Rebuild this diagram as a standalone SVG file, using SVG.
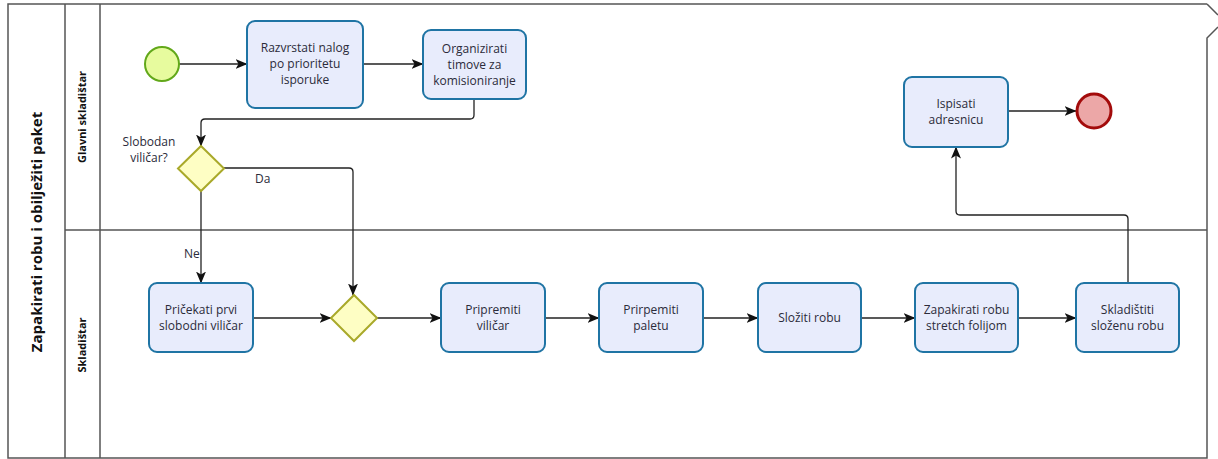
<svg xmlns="http://www.w3.org/2000/svg" width="1218" height="459" viewBox="0 0 1218 459">
<style>
.pool{fill:none;stroke:#555;stroke-width:1.5}
.task rect{fill:#e8ecfc;stroke:#1f74a4;stroke-width:2}
.txt{font-family:"Open Sans","Noto Sans",sans-serif;font-size:12px;fill:#2b2b3a;text-anchor:middle}
.gw{fill:#fefec4;stroke:#a9a92a;stroke-width:2}
.lbl{font-family:"Open Sans","Noto Sans",sans-serif;font-size:12px;fill:#2b2b3a}
.lane{font-family:"Open Sans","Noto Sans",sans-serif;font-size:11px;font-weight:bold;fill:#111;text-anchor:middle}
.flow{fill:none;stroke:#222;stroke-width:1.3;marker-end:url(#arr)}
</style>
<defs>
<marker id="arr" viewBox="0 0 12 10" refX="11.5" refY="5" markerWidth="12" markerHeight="10" markerUnits="userSpaceOnUse" orient="auto">
<path d="M0,0 L12,5 L0,10 L3,5 Z" fill="#111"/>
</marker>
</defs>
<rect width="1218" height="459" fill="#fff"/>
<g id="pool">
<path class="pool" d="M1207,4 H8 V458 H1207 V38 L1218,27 M1207,4 L1218,15"/>
<line class="pool" x1="65" y1="4" x2="65" y2="458"/>
<line class="pool" x1="100" y1="4" x2="100" y2="458"/>
<line class="pool" x1="65" y1="230" x2="1207" y2="230"/>
<text x="0" y="0" transform="translate(42,232) rotate(-90)" font-family="'Open Sans','Noto Sans',sans-serif" font-size="15" font-weight="bold" fill="#111" text-anchor="middle">Zapakirati robu i obilježiti paket</text>
</g>
<g id="lane-glavni"><text class="lane" transform="translate(86,117) rotate(-90)">Glavni skladištar</text></g>
<g id="lane-skladistar"><text class="lane" transform="translate(86,345) rotate(-90)">Skladištar</text></g>
<g id="connectors">
<path class="flow" d="M179,64 H247"/>
<path class="flow" d="M363,64 H423"/>
<path class="flow" d="M474,99 V115 Q474,119 470,119 H205 Q201,119 201,123 V146"/>
<path class="flow" d="M224,168 H349 Q353,168 353,172 V295"/>
<path class="flow" d="M201,191 V283"/>
<path class="flow" d="M253,318 H331"/>
<path class="flow" d="M377,318 H441"/>
<path class="flow" d="M545,318 H599"/>
<path class="flow" d="M703,318 H758"/>
<path class="flow" d="M861,318 H915"/>
<path class="flow" d="M1018,318 H1076"/>
<path class="flow" d="M1128,283 V219 Q1128,215 1124,215 H960 Q956,215 956,211 V147"/>
<path class="flow" d="M1008,111 H1076"/>
<text class="lbl" x="255" y="183">Da</text>
<text class="lbl" x="184" y="258">Ne</text>
</g>
<g id="start"><circle cx="162" cy="64" r="17" fill="#e7fb9e" stroke="#62a81a" stroke-width="2"/></g>
<g id="end"><circle cx="1094" cy="111" r="17" fill="#eca7a7" stroke="#a30b0b" stroke-width="3"/></g>
<g id="task-razvrstati" class="task"><rect x="247" y="21" width="116" height="87" rx="8"/><text class="txt" x="305"><tspan x="305" y="52">Razvrstati nalog</tspan><tspan x="305" y="68">po prioritetu</tspan><tspan x="305" y="84">isporuke</tspan></text></g>
<g id="task-organizirati" class="task"><rect x="423" y="30" width="103" height="69" rx="8"/><text class="txt"><tspan x="474.5" y="53">Organizirati</tspan><tspan x="474.5" y="69">timove za</tspan><tspan x="474.5" y="85">komisioniranje</tspan></text></g>
<g id="gw-slobodan"><path class="gw" d="M201,146 L224,168.5 L201,191 L178,168.5 Z"/><text class="lbl" text-anchor="middle"><tspan x="149" y="146">Slobodan</tspan><tspan x="149" y="162">viličar?</tspan></text></g>
<g id="task-pricekati" class="task"><rect x="149" y="283" width="104" height="69" rx="8"/><text class="txt"><tspan x="201" y="314">Pričekati prvi</tspan><tspan x="201" y="330">slobodni viličar</tspan></text></g>
<g id="gw-merge"><path class="gw" d="M354,295 L377,318 L354,341 L331,318 Z"/></g>
<g id="task-pripremiti" class="task"><rect x="441" y="283" width="104" height="69" rx="8"/><text class="txt"><tspan x="493" y="314">Pripremiti</tspan><tspan x="493" y="330">viličar</tspan></text></g>
<g id="task-paletu" class="task"><rect x="599" y="283" width="104" height="69" rx="8"/><text class="txt"><tspan x="651" y="314">Prirpemiti</tspan><tspan x="651" y="330">paletu</tspan></text></g>
<g id="task-sloziti" class="task"><rect x="758" y="283" width="103" height="69" rx="8"/><text class="txt" x="809.5" y="322">Složiti robu</text></g>
<g id="task-zapakirati" class="task"><rect x="915" y="283" width="103" height="69" rx="8"/><text class="txt"><tspan x="966.5" y="314">Zapakirati robu</tspan><tspan x="966.5" y="330">stretch folijom</tspan></text></g>
<g id="task-skladistiti" class="task"><rect x="1076" y="283" width="103" height="69" rx="8"/><text class="txt"><tspan x="1127.5" y="314">Skladištiti</tspan><tspan x="1127.5" y="330">složenu robu</tspan></text></g>
<g id="task-ispisati" class="task"><rect x="904" y="77" width="104" height="70" rx="8"/><text class="txt"><tspan x="956" y="108">Ispisati</tspan><tspan x="956" y="124">adresnicu</tspan></text></g>
</svg>
